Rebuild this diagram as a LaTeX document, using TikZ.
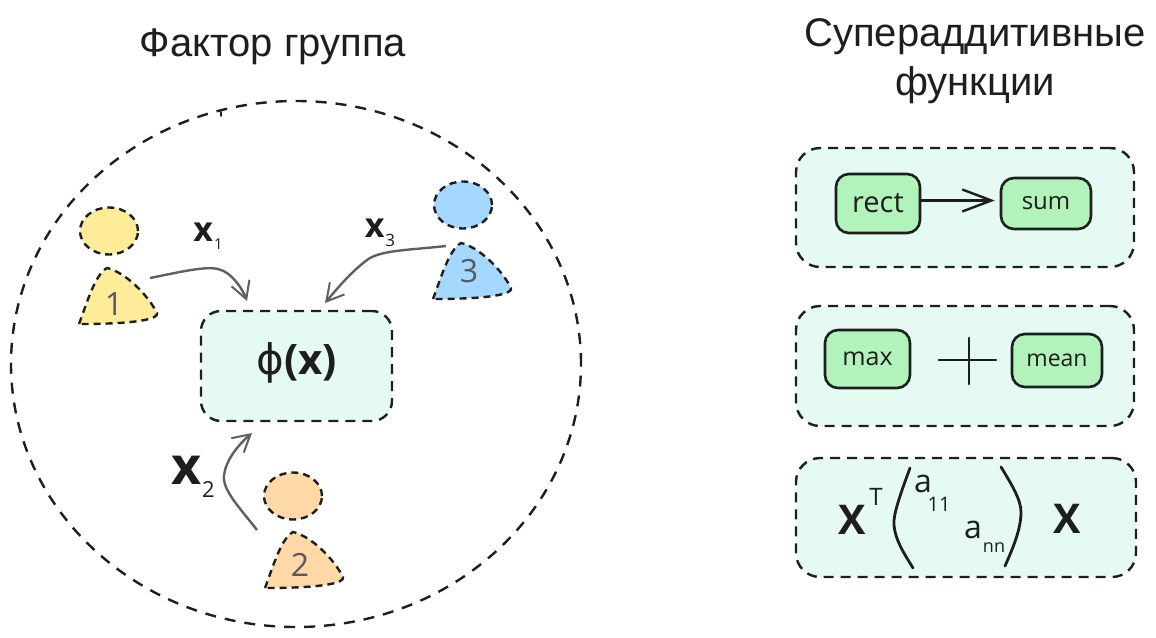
\documentclass[tikz,border=0pt]{standalone}
\usepackage{fontspec}
\setmainfont{Open Sans}
\newfontfamily\titlefont{Liberation Sans}
\newfontfamily\greekfont{DejaVu Sans}
\usetikzlibrary{positioning, calc, arrows.meta, shapes.geometric}
\definecolor{mintbg}{HTML}{E5FAF3}
\definecolor{greenbox}{HTML}{B2F2BB}
\definecolor{yellowp}{HTML}{FFEC99}
\definecolor{orangep}{HTML}{FFD8A8}
\definecolor{bluep}{HTML}{A5D8FF}
\definecolor{inkc}{HTML}{1E1E1E}
\definecolor{arrowc}{HTML}{5F5F5F}
\tikzset{
x=1pt, y=-1pt,
dashline/.style={draw=inkc, line width=2.4pt, dash pattern=on 10pt off 7pt},
shortdash/.style={draw=inkc, line width=2.4pt, dash pattern=on 7pt off 5pt},
panel/.style={dashline, fill=mintbg, rounded corners=24pt, inner sep=0pt, minimum width=#1},
panel/.default=338pt,
funcbox/.style={draw=inkc, line width=2.6pt, fill=greenbox, rounded corners=13pt, inner sep=0pt, text=inkc},
head/.style={ellipse, shortdash, fill=#1, minimum width=58pt, minimum height=47pt, inner sep=0pt},
numlabel/.style={text=black!65, font=\fontsize{32}{34}\selectfont, inner sep=0pt},
sublabel/.style={text=inkc, inner sep=0pt, font=\fontsize{#1}{#1}\selectfont},
titlelabel/.style={font=\titlefont\fontsize{40}{49}\selectfont, text=inkc, align=center, inner sep=0pt},
flow/.style={draw=arrowc, line width=2.4pt, -{Straight Barb[length=17pt,width=19pt,line width=2pt]}},
stroke/.style={draw=inkc, line width=2.8pt, line cap=round},
person/.pic={
% body of one figure, apex at the origin
\path[shortdash, fill=\pgfkeysvalueof{/tikz/bodycolor}] (-28,56) .. controls (-19,32) and (-12,7) .. (0,0)
.. controls (18,4) and (41,27) .. (50,45) .. controls (52,51) and (30,56) .. (-28,56) -- cycle;
},
bodycolor/.initial=white,
}
\newcommand{\xsub}[2]{{\bfseries x}\raisebox{-0.25em}{\kern1pt\fontsize{#2}{#2}\selectfont #1}}

\begin{document}
\begin{tikzpicture}
\useasboundingbox (0,0) rectangle (1156,637);
% titles
\node[titlelabel] (titleleft) at (273,47) {Фактор группа};
\node[titlelabel] (titleright) at (975,61) {Супераддитивные\\функции};

% big group
\node[ellipse, dashline, dash pattern=on 11pt off 9pt, minimum width=570pt, minimum height=526pt, inner sep=0pt] (group) at (296,364) {};
\coordinate (ticka) at (221,112);
\coordinate (tickb) at (221,116);
\draw[stroke, line width=1.8pt] (ticka) -- (tickb);

% figures
\node[head=yellowp] (head1) at (109,231) {};
\pic[bodycolor=yellowp] at (107,268) {person};
\node[numlabel] (num1) at (114,304) {1};
\node[head=orangep] (head2) at (293,496) {};
\pic[bodycolor=orangep] at (293,532) {person};
\node[numlabel] (num2) at (300,565) {2};
\node[head=bluep] (head3) at (463,205) {};
\pic[bodycolor=bluep] at (461,243) {person};
\node[numlabel] (num3) at (469,271) {3};

% central box
\node[panel=191pt, minimum height=110pt, rounded corners=20pt] (phi) at (296.5,366) {};
\node[inner sep=0pt, text=inkc, font=\fontsize{42}{44}\selectfont] (phitext) at (297,363) {{\greekfont ϕ}\textbf{(x)}};

% flows
\coordinate (from1) at (150,278);
\coordinate (to1) at (247,301);
\coordinate (from2) at (257,530);
\coordinate (to2) at (252,433);
\coordinate (from3) at (446,246);
\coordinate (to3) at (325,303);
\draw[flow] (from1) .. controls (180,272) and (205,266) .. (218,269) .. controls (232,272) and (243,290) .. (to1);
\draw[flow] (from2) .. controls (240,508) and (222,490) .. (224,475) .. controls (226,460) and (238,445) .. (to2);
\draw[flow] (from3) .. controls (410,250) and (385,250) .. (370,258) .. controls (355,268) and (340,285) .. (to3);
\node[sublabel=34] (x1) at (208,236) {\xsub{1}{15}};
\node[sublabel=34] (x3) at (380,233) {\xsub{3}{17}};
\node[sublabel=52] (x2) at (193,477) {\xsub{2}{22}};

% right panels
\node[panel, minimum height=119pt] (panela) at (965,207.5) {};
\node[panel, minimum height=120pt] (panelb) at (965,366) {};
\node[panel=340pt, minimum height=119pt] (panelc) at (966,517.5) {};

\node[funcbox, minimum width=84pt, minimum height=59pt, font=\fontsize{29}{30}\selectfont] (rect) at (878,203.5) {rect};
\node[funcbox, minimum width=90pt, minimum height=51pt, font=\fontsize{24}{26}\selectfont] (sum) at (1046,203.5) {sum};
\draw[stroke, shorten >=5pt, -{Straight Barb[length=29pt,width=22pt,line width=2.4pt]}] ([yshift=3pt]rect.east) -- ([yshift=3pt]sum.west);

\node[funcbox, minimum width=85pt, minimum height=58pt, font=\fontsize{25}{26}\selectfont] (max) at (867.5,359) {max};
\node[funcbox, minimum width=90pt, minimum height=53pt, font=\fontsize{23}{24}\selectfont] (mean) at (1057,360.5) {mean};
\coordinate (plusw) at (939,360);
\coordinate (pluse) at (996,360);
\coordinate (plusn) at (969,338);
\coordinate (pluss) at (969,384);
\draw[stroke] (plusw) -- (pluse);
\draw[stroke] (plusn) -- (pluss);

% quadratic form
\node[inner sep=0pt, text=inkc, font=\bfseries\fontsize{41}{43}\selectfont] (xleft) at (852,520) {X};
\node[inner sep=0pt, text=inkc, font=\fontsize{24}{25}\selectfont] (xtop) at (876,497) {T};
\node[inner sep=0pt, text=inkc, font=\bfseries\fontsize{41}{43}\selectfont] (xright) at (1067,519) {X};
\node[sublabel=32] (a11) at (923,484) {a};
\node[sublabel=20] (i11) at (939,504) {11};
\node[sublabel=32] (ann) at (973,530) {a};
\node[sublabel=18] (inn) at (994,548) {nn};
\coordinate (parlt) at (910,468);
\coordinate (parlb) at (913,568);
\coordinate (parrt) at (1001,467);
\coordinate (parrb) at (1005,566);
\draw[stroke] (parlt) .. controls (900,495) and (893,515) .. (894,525) .. controls (895,540) and (905,555) .. (parlb);
\draw[stroke] (parrt) .. controls (1012,485) and (1021,500) .. (1021,512) .. controls (1021,530) and (1012,550) .. (parrb);
\end{tikzpicture}
\end{document}
